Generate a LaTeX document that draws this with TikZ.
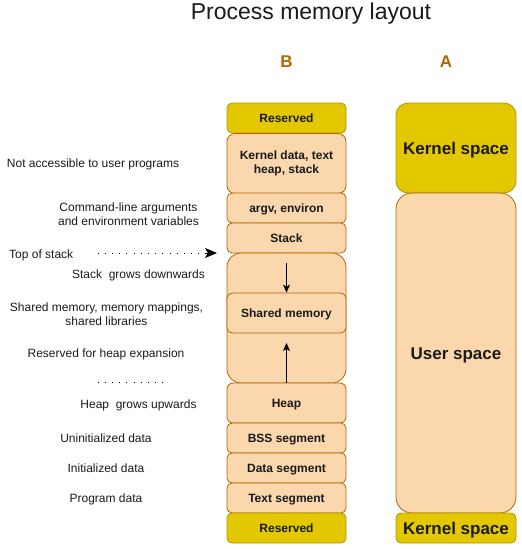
\documentclass[tikz,border=0pt]{standalone}
\usepackage{fontspec}
\setmainfont{Liberation Sans}
\usetikzlibrary{arrows.meta}
\frenchspacing
\definecolor{peach}{HTML}{FAD7AC}
\definecolor{peachline}{HTML}{B46504}
\definecolor{gold}{HTML}{E3C800}
\definecolor{goldline}{HTML}{B09500}
\definecolor{txt}{HTML}{1A1A1A}
\tikzset{
  oneline/.style={text height=10pt, text depth=1.4pt},
  multiline/.style={text height=, text depth=},
  seg/.style={draw=peachline, fill=peach, line width=0.8pt, rounded corners=5pt,
    minimum width=119pt, inner sep=0pt, align=center, text=txt, oneline,
    font=\bfseries\fontsize{12}{14}\selectfont},
  res/.style={seg, draw=goldline, fill=gold},
  bigseg/.style={seg, minimum width=120pt, rounded corners=12pt, text height=13.5pt, text depth=1.5pt,
    font=\bfseries\fontsize{17}{20}\selectfont},
  bigres/.style={bigseg, draw=goldline, fill=gold},
  lbl/.style={font=\fontsize{12}{14}\selectfont, text=txt, align=center, inner sep=0pt, oneline},
  hdr/.style={font=\bfseries\fontsize{17}{20}\selectfont, text=peachline, inner sep=0pt},
  arr/.style={line width=0.8pt, -{Stealth[length=8pt,width=7pt,inset=2pt]}},
  dots/.style={line width=1pt, dash pattern=on 0.9pt off 6.3pt},
}
\begin{document}
\begin{tikzpicture}[x=1pt,y=-1pt]
\useasboundingbox (0,0) rectangle (522,549);
% title and headers
\node[font=\fontsize{23}{27}\selectfont, text=txt, inner sep=0pt] (title) at (311,14) {Process memory layout};
\node[hdr] (hb) at (286.5,62) {B};
\node[hdr] (ha) at (446,62) {A};
% column B
\node[res, minimum height=30pt] (r1) at (286.5,118) {Reserved};
\node[seg, multiline, minimum height=60pt, rounded corners=8pt] (kd) at (286.5,163.5) {Kernel data, text\\heap, stack};
\node[seg, minimum height=30pt] (argv) at (286.5,208) {argv, environ};
\node[seg, minimum height=30pt] (stack) at (286.5,238) {Stack};
\node[seg, minimum height=130pt, rounded corners=14pt] (region) at (286.5,318) {};
\node[seg, minimum height=40pt, rounded corners=6pt] (shm) at (286.5,313) {Shared memory};
\node[seg, minimum height=40pt, rounded corners=6pt] (heap) at (286.5,403) {Heap};
\node[seg, minimum height=30pt] (bss) at (286.5,438) {BSS segment};
\node[seg, minimum height=30pt] (data) at (286.5,468) {Data segment};
\node[seg, minimum height=30pt] (text) at (286.5,498) {Text segment};
\node[res, minimum height=30pt] (r2) at (286.5,528) {Reserved};
% column A
\node[bigres, minimum height=90pt] (ks1) at (456,148) {Kernel space};
\node[bigseg, minimum height=320pt, rounded corners=16pt] (us) at (456,353) {User space};
\node[bigres, minimum height=30pt, rounded corners=5pt] (ks2) at (456,528) {Kernel space};
% growth arrows
\coordinate (sdown) at (286.5,263);
\coordinate (hup) at (286.5,343);
\draw[arr] (sdown) -- (shm.north);
\draw[arr] (heap.north) -- (hup);
% left labels
\node[lbl] (l1) at (93,163) {Not accessible to user programs};
\node[lbl, multiline] (l2) at (128.5,214.5) {Command-line arguments\\and environment variables};
\node[lbl, anchor=west] (l3) at (9,254) {Top of stack};
\node[lbl] (l4) at (138.5,274) {Stack\ \ grows downwards};
\node[lbl, multiline] (l5) at (106.5,314.5) {Shared memory, memory mappings,\\shared libraries};
\node[lbl] (l6) at (106,353) {Reserved for heap expansion};
\node[lbl] (l7) at (138.5,404) {Heap\ \ grows upwards};
\node[lbl] (l8) at (106,438) {Uninitialized data};
\node[lbl] (l9) at (106,468) {Initialized data};
\node[lbl] (l10) at (106,498) {Program data};
% dotted lines
\coordinate (ts1) at (97.5,253);
\coordinate (ts2) at (217,253);
\draw[dots] (ts1) -- (203,253);
\draw[line width=0.8pt, -{Stealth[length=12pt,width=10pt,inset=3pt]}] (205,253) -- (ts2);
\coordinate (hd1) at (97.5,382);
\coordinate (hd2) at (164,382);
\draw[dots] (hd1) -- (hd2);
\end{tikzpicture}
\end{document}
